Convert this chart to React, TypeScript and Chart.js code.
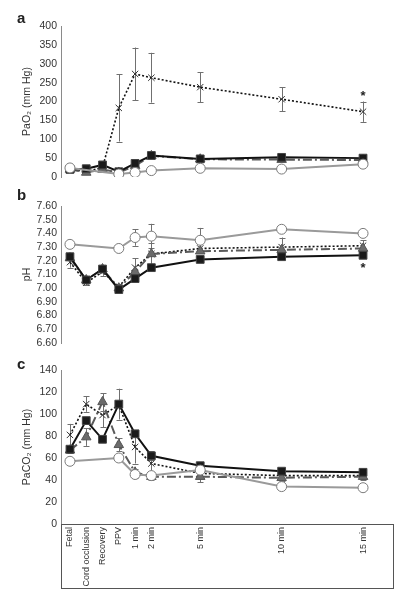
import React, { useEffect, useRef } from "react";
import { Chart, registerables } from "chart.js";

Chart.register(...registerables);

// ---------- data ----------
const categories = ["Fetal", "Cord occlusion", "Recovery", "PPV", "1 min", "2 min", "5 min", "10 min", "15 min"];
const timePoints = [-3, -2, -1, 0, 1, 2, 5, 10, 15];

// Panel a: PaO2 (mm Hg)
const pao2Circle = [24, null, null, 8, 12, 17, 23, 21, 34];
const pao2Square = [20, 22, 32, 14, 36, 57, 48, 52, 50];
const pao2Triangle = [20, 12, 20, 12, 30, 56, 47, 46, 45];
const pao2Cross = [21, 14, 25, 183, 273, 263, 238, 206, 173];
const pao2CrossErr = [null, null, null, 89, 70, 66, 40, 32, 27];
const pao2Ticks = { min: 0, max: 400, step: 50 };
const pao2Star = { x: 15, y: 222 };

// Panel b: pH
const phCircle = [7.32, null, null, 7.29, 7.37, 7.38, 7.35, 7.43, 7.40];
const phCircleErr = [null, null, null, null, 0.06, 0.09, 0.09, null, null];
const phSquare = [7.23, 7.06, 7.14, 6.99, 7.07, 7.15, 7.21, 7.23, 7.24];
const phTriangle = [7.22, 7.06, 7.14, 7.0, 7.12, 7.25, 7.27, 7.28, 7.29];
const phCross = [7.19, 7.04, 7.12, 7.01, 7.15, 7.25, 7.29, 7.3, 7.31];
const phCrossErr = [0.04, 0.02, 0.03, 0.02, 0.07, 0.08, null, 0.07, 0.04];
const phTicks = { min: 6.6, max: 7.6, step: 0.1 };
const phStar = { x: 15, y: 7.163 };

// Panel c: PaCO2 (mm Hg)
const paco2Circle = [57, null, null, 60, 45, 44, 49, 34, 33];
const paco2CircleErr = [2, null, null, null, 3, null, null, 2, 2];
const paco2Square = [68, 94, 77, 109, 82, 62, 53, 48, 47];
const paco2SquareErr = [3, null, null, 14, null, 4, null, null, null];
const paco2Triangle = [67, 79, 111, 72, 47, 43, 43, 42, 43];
const paco2TriangleErr = [null, 8, 8, 6, 3, 3, 5, 3, 3];
const paco2Cross = [81, 109, 99, 108, 70, 55, 46, 44, 44];
const paco2CrossErr = [10, 7, 11, null, 15, 8, 4, 3, 3];
const paco2Ticks = { min: 0, max: 140, step: 20 };

// ---------- styling ----------
const FONT = "'Liberation Sans', Arial, Helvetica, sans-serif";
const X_MIN = -3.55;
const X_MAX = 16.84;

const toXY = (arr: (number | null)[]) => arr.map((v, i) => ({ x: timePoints[i], y: v }));

function datasets(
  circle: (number | null)[],
  square: (number | null)[],
  triangle: (number | null)[],
  cross: (number | null)[],
  errs: { circle?: any[]; square?: any[]; triangle?: any[]; cross?: any[] }
) {
  return [
    {
      label: "circle",
      data: toXY(circle),
      errors: errs.circle,
      borderColor: "#9a9a9a",
      borderWidth: 2,
      pointStyle: "circle",
      pointRadius: 5,
      pointBackgroundColor: "#ffffff",
      pointBorderColor: "#7a7a7a",
      pointBorderWidth: 1,
      spanGaps: true,
      order: 0,
    },
    {
      label: "square",
      data: toXY(square),
      errors: errs.square,
      borderColor: "#111111",
      borderWidth: 2,
      pointStyle: "rect",
      pointRadius: 5.5,
      pointBackgroundColor: "#1a1a1a",
      pointBorderColor: "#444",
      pointBorderWidth: 1,
      spanGaps: true,
      order: 1,
    },
    {
      label: "triangle",
      data: toXY(triangle),
      errors: errs.triangle,
      borderColor: "#5a5a5a",
      borderWidth: 2,
      borderDash: [9, 3, 2, 3],
      pointStyle: "triangle",
      pointRadius: 5.5,
      pointBackgroundColor: "#6b6b6b",
      pointBorderColor: "#555",
      pointBorderWidth: 1,
      spanGaps: true,
      order: 2,
    },
    {
      label: "cross",
      data: toXY(cross),
      errors: errs.cross,
      borderColor: "#111111",
      borderWidth: 1.6,
      borderDash: [2, 2],
      pointStyle: "crossRot",
      pointRadius: 4.5,
      pointBackgroundColor: "#333",
      pointBorderColor: "#333",
      pointBorderWidth: 1,
      spanGaps: true,
      order: 3,
    },
  ];
}

const errorBarPlugin = {
  id: "errorBars",
  beforeDatasetsDraw(chart: any) {
    const { ctx } = chart;
    const xs = chart.scales.x;
    const ys = chart.scales.y;
    ctx.save();
    ctx.strokeStyle = "#707070";
    ctx.lineWidth = 1;
    chart.data.datasets.forEach((ds: any) => {
      if (!ds.errors) return;
      ds.data.forEach((p: any, i: number) => {
        const e = ds.errors[i];
        if (e == null || p.y == null) return;
        const x = Math.round(xs.getPixelForValue(p.x)) + 0.5;
        const y1 = ys.getPixelForValue(p.y + e);
        const y2 = ys.getPixelForValue(p.y - e);
        ctx.beginPath();
        ctx.moveTo(x, y1);
        ctx.lineTo(x, y2);
        ctx.moveTo(x - 3, Math.round(y1) + 0.5);
        ctx.lineTo(x + 3, Math.round(y1) + 0.5);
        ctx.moveTo(x - 3, Math.round(y2) + 0.5);
        ctx.lineTo(x + 3, Math.round(y2) + 0.5);
        ctx.stroke();
      });
    });
    ctx.restore();
  },
};

const starPlugin = {
  id: "stars",
  afterDraw(chart: any, _args: any, opts: any) {
    if (!opts || !opts.star) return;
    const { ctx } = chart;
    const x = chart.scales.x.getPixelForValue(opts.star.x);
    const y = chart.scales.y.getPixelForValue(opts.star.y);
    ctx.save();
    ctx.fillStyle = "#222";
    ctx.font = `bold 13px ${FONT}`;
    ctx.textAlign = "center";
    ctx.textBaseline = "middle";
    ctx.fillText("*", x, y + 3);
    ctx.restore();
  },
};

const boxPlugin = {
  id: "labelBox",
  afterDraw(chart: any, _args: any, opts: any) {
    if (!opts || !opts.enabled) return;
    const { ctx, chartArea } = chart;
    const xs = chart.scales.x;
    ctx.save();
    ctx.strokeStyle = "#555";
    ctx.lineWidth = 1;
    ctx.strokeRect(
      Math.round(chartArea.left) + 0.5,
      Math.round(chartArea.bottom) + 0.5,
      Math.round(chartArea.right - chartArea.left),
      Math.round(xs.bottom - chartArea.bottom)
    );
    ctx.restore();
  },
};

function makeConfig(opts: {
  ds: any[];
  ticks: { min: number; max: number; step: number };
  title: string;
  decimals: number;
  padTop: number;
  padBottom: number;
  showX: boolean;
  star?: { x: number; y: number };
}) {
  return {
    type: "line",
    data: { datasets: opts.ds },
    plugins: [errorBarPlugin, starPlugin, boxPlugin],
    options: {
      animation: false,
      responsive: false,
      devicePixelRatio: 1,
      layout: { padding: { left: 0, right: 15, top: opts.padTop, bottom: opts.padBottom } },
      plugins: {
        legend: { display: false },
        tooltip: { enabled: false },
        stars: { star: opts.star },
        labelBox: { enabled: opts.showX },
      },
      scales: {
        x: {
          type: "linear",
          min: X_MIN,
          max: X_MAX,
          display: opts.showX,
          afterBuildTicks: (s: any) => {
            s.ticks = timePoints.map((v) => ({ value: v }));
          },
          afterFit: (s: any) => {
            if (opts.showX) s.height = 64;
          },
          ticks: {
            autoSkip: false,
            minRotation: 90,
            maxRotation: 90,
            padding: 3,
            color: "#333",
            font: { family: FONT, size: 9 },
            callback: (_v: any, i: number) => categories[i],
          },
          grid: { display: false, drawTicks: false },
          border: { display: true, color: "#555", width: 1 },
        },
        y: {
          type: "linear",
          min: opts.ticks.min,
          max: opts.ticks.max,
          afterFit: (s: any) => {
            s.width = 61;
          },
          afterBuildTicks: (s: any) => {
            const t: any[] = [];
            const n = Math.round((opts.ticks.max - opts.ticks.min) / opts.ticks.step);
            for (let k = 0; k <= n; k++) t.push({ value: +(opts.ticks.min + k * opts.ticks.step).toFixed(6) });
            s.ticks = t;
          },
          ticks: {
            autoSkip: false,
            padding: 4,
            color: "#333",
            font: { family: FONT, size: 10.5 },
            callback: (v: any) => Number(v).toFixed(opts.decimals),
          },
          title: {
            display: true,
            text: opts.title,
            color: "#333",
            font: { family: FONT, size: 10.5 },
            padding: { top: 21, bottom: 0 },
          },
          grid: { display: false, drawTicks: false },
          border: { display: true, color: "#8a8a8a", width: 1 },
        },
      },
    },
  };
}

function Panel({ top, height, config }: { top: number; height: number; config: any }) {
  const ref = useRef<HTMLCanvasElement>(null);
  useEffect(() => {
    if (!ref.current) return;
    const chart = new Chart(ref.current, config);
    return () => chart.destroy();
  }, [config]);
  return (
    <canvas
      ref={ref}
      width={408}
      height={height}
      style={{ position: "absolute", left: 0, top, width: 408, height }}
    />
  );
}

const letterStyle = (top: number): React.CSSProperties => ({
  position: "absolute",
  left: 17,
  top,
  fontFamily: FONT,
  fontWeight: "bold",
  fontSize: 15,
  lineHeight: "15px",
  color: "#222",
});

const configA = makeConfig({
  ds: datasets(pao2Circle, pao2Square, pao2Triangle, pao2Cross, { cross: pao2CrossErr }),
  ticks: pao2Ticks,
  title: "PaO₂ (mm Hg)",
  decimals: 0,
  padTop: 26,
  padBottom: 13,
  showX: false,
  star: pao2Star,
});

const configB = makeConfig({
  ds: datasets(phCircle, phSquare, phTriangle, phCross, { circle: phCircleErr, cross: phCrossErr }),
  ticks: phTicks,
  title: "pH",
  decimals: 2,
  padTop: 16,
  padBottom: 12,
  showX: false,
  star: phStar,
});

const configC = makeConfig({
  ds: datasets(paco2Circle, paco2Square, paco2Triangle, paco2Cross, {
    circle: paco2CircleErr,
    square: paco2SquareErr,
    triangle: paco2TriangleErr,
    cross: paco2CrossErr,
  }),
  ticks: paco2Ticks,
  title: "PaCO₂ (mm Hg)",
  decimals: 0,
  padTop: 15,
  padBottom: 12,
  showX: true,
});

export default function App() {
  return (
    <div
      style={{
        position: "fixed",
        left: 0,
        top: 0,
        width: 408,
        height: 600,
        background: "#fff",
        overflow: "hidden",
      }}
    >
      <Panel top={0} height={190} config={configA} />
      <Panel top={190} height={165} config={configB} />
      <Panel top={355} height={245} config={configC} />
      <span style={letterStyle(10)}>a</span>
      <span style={letterStyle(187)}>b</span>
      <span style={letterStyle(356)}>c</span>
    </div>
  );
}
